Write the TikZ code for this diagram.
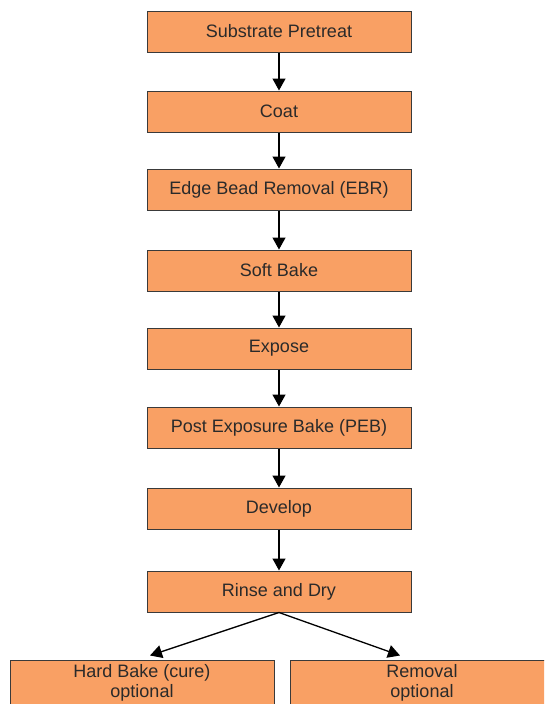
\documentclass[tikz,border=0pt]{standalone}
\usepackage{fontspec}
\setmainfont{Liberation Sans}
\usepackage{xcolor}
\usepackage{tikz}
\usetikzlibrary{arrows.meta,positioning}
\definecolor{stageorange}{HTML}{F9A064}
\definecolor{stageedge}{HTML}{3A3A3A}
\definecolor{stagetext}{HTML}{2A2A2A}

\begin{document}
\begin{tikzpicture}[
  x=1pt,y=-1pt,
  font=\fontsize{18}{20}\selectfont,
  stage/.style={draw=stageedge,line width=1pt,fill=stageorange,text=stagetext,minimum width=264pt,minimum height=41pt,inner sep=0pt,align=center},
  flow/.style={line width=1.3pt,-{Triangle[length=12pt,width=13pt]}},
]
\useasboundingbox (0,0) rectangle (544,704);
\clip (0,0) rectangle (544,704);
\node[stage] (pretreat) at (279,31.5) {Substrate Pretreat};
\node[stage] (coat) at (279,111.5) {Coat};
\node[stage] (ebr) at (279,189.5) {Edge Bead Removal (EBR)};
\node[stage] (softbake) at (279,270.5) {Soft Bake};
\node[stage] (expose) at (279,348.5) {Expose};
\node[stage] (peb) at (279,427.5) {Post Exposure Bake (PEB)};
\node[stage] (develop) at (279,508.5) {Develop};
\node[stage] (rinse) at (279,591.5) {Rinse and Dry};
\node[stage,minimum height=46pt] (hardbake) at (142,683) {Hard Bake (cure)\\optional};
\node[stage,minimum height=46pt] (removal) at (422,683) {Removal\\optional};
\draw[flow] (pretreat) -- (coat);
\draw[flow] (coat) -- (ebr);
\draw[flow] (ebr) -- (softbake);
\draw[flow] (softbake) -- (expose);
\draw[flow] (expose) -- (peb);
\draw[flow] (peb) -- (develop);
\draw[flow] (develop) -- (rinse);
\draw[flow] (rinse.south) -- ([xshift=8pt,yshift=4pt]hardbake.north);
\draw[flow] (rinse.south) -- ([xshift=-22pt,yshift=4pt]removal.north);
\end{tikzpicture}
\end{document}
